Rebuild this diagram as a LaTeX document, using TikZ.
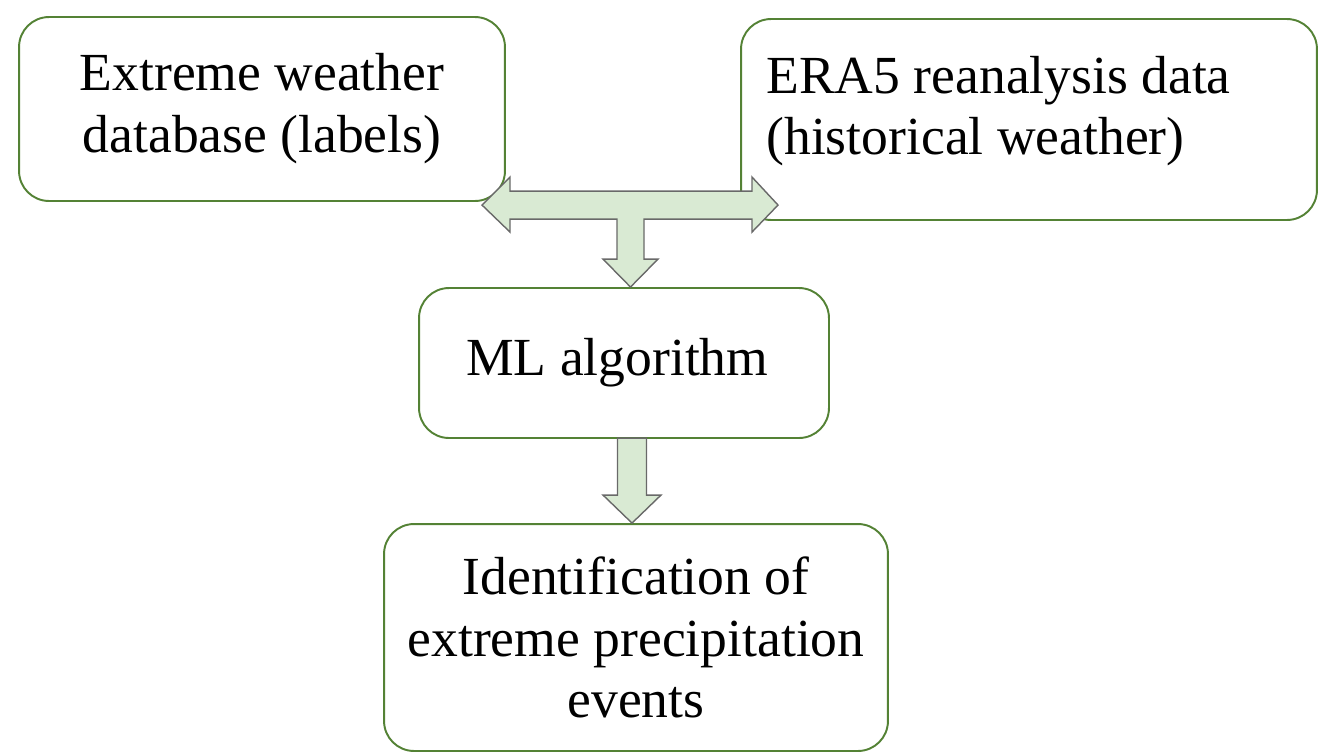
\documentclass[tikz,border=0pt]{standalone}
\usepackage{fontspec}
\setmainfont{Liberation Serif}
\usetikzlibrary{calc}
\definecolor{verdecaja}{RGB}{84,130,53}
\definecolor{verdeflecha}{RGB}{217,234,211}
\definecolor{grisflecha}{RGB}{105,105,105}
\begin{document}
\begin{tikzpicture}[x=0.02cm,y=-0.02cm,
  texto/.style={font=\fontsize{30.5}{35.2}\selectfont},
  caja/.style={texto, draw=verdecaja, line width=1.1pt, rounded corners=0.6cm,
    fill=white, align=center, inner sep=0pt},
  flecha/.style={draw=grisflecha, fill=verdeflecha, line width=0.8pt, line join=miter}]
% Marco de la figura
\useasboundingbox (0,0) rectangle (1319,752);

% Las cajas con esquinas redondeadas
\node[caja, minimum width=9.72cm, minimum height=3.68cm] (extremos) at (262,109)
  {Extreme weather\\database (labels)};
\node[caja, minimum width=11.52cm, minimum height=4.02cm] (era) at (1029,119.5) {};
\node[texto, align=left, inner sep=0pt, anchor=north west] (eratexto)
  at ($(era.north west)+(26,37.5)$) {ERA5 reanalysis data\\(historical weather)};
\node[caja, minimum width=8.2cm, minimum height=3cm] (ml) at (624,363)
  {ML algorithm\ };
\node[caja, minimum width=10.08cm, minimum height=4.54cm] (ident) at (636,637.5)
  {Identification of\\extreme precipitation\\events};

% Flecha en T: de las dos fuentes de datos al algoritmo
\draw[flecha] ($(ml.north)+(6.5,0)$) -- ++(27.5,-28) -- ++(-14,0) -- ++(0,-40)
  -- ++(108,0) -- ++(0,13) -- ++(26,-27) -- ++(-26,-28) -- ++(0,14)
  -- ++(-242,0) -- ++(0,-14) -- ++(-28,28) -- ++(28,27) -- ++(0,-13)
  -- ++(107,0) -- ++(0,40) -- ++(-14,0) -- cycle;

% Flecha hacia abajo: del algoritmo al resultado
\draw[flecha] ($(ident.north)+(-4,0)$) -- ++(29,-28) -- ++(-14.5,0) -- ++(0,-57)
  -- ++(-29,0) -- ++(0,57) -- ++(-14.5,0) -- cycle;
\end{tikzpicture}
\end{document}
